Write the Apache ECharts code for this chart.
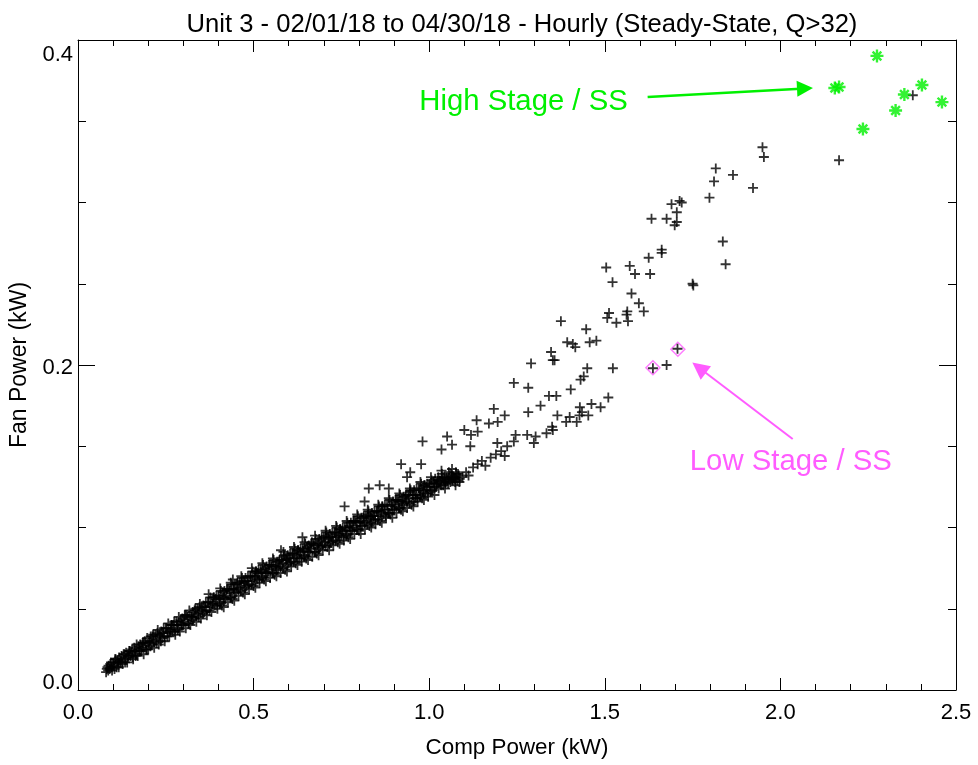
<!DOCTYPE html>
<html><head><meta charset="utf-8">
<script src="https://cdn.jsdelivr.net/npm/echarts@6/dist/echarts.min.js"></script>
<style>html,body{margin:0;padding:0;background:#fff}#c{width:978px;height:765px}</style>
</head><body><div id="c"></div>
<script>
const titleText = 'Unit 3 - 02/01/18 to 04/30/18 - Hourly (Steady-State, Q>32)';
const xName = 'Comp Power (kW)';
const yName = 'Fan Power (kW)';
const xMin = 0, xMax = 2.5, xStep = 0.5;
const yMin = 0, yMax = 0.4, yStep = 0.2;

// dense steady-state band (Comp Power kW, Fan Power kW)
const bandPoints = [
[0.080,0.011],[0.084,0.014],[0.087,0.015],[0.090,0.013],[0.094,0.017],[0.097,0.012],
[0.100,0.017],[0.104,0.013],[0.107,0.019],[0.110,0.014],[0.114,0.017],[0.117,0.020],
[0.120,0.017],[0.124,0.021],[0.127,0.016],[0.130,0.022],[0.134,0.017],[0.137,0.023],
[0.140,0.017],[0.144,0.021],[0.147,0.024],[0.150,0.021],[0.154,0.025],[0.157,0.019],
[0.160,0.026],[0.164,0.021],[0.167,0.028],[0.170,0.021],[0.174,0.025],[0.177,0.028],
[0.180,0.024],[0.184,0.029],[0.187,0.022],[0.190,0.030],[0.194,0.025],[0.197,0.032],
[0.200,0.025],[0.204,0.030],[0.207,0.033],[0.210,0.028],[0.214,0.034],[0.217,0.026],
[0.220,0.034],[0.224,0.029],[0.227,0.037],[0.230,0.028],[0.234,0.033],[0.237,0.036],
[0.240,0.032],[0.244,0.038],[0.247,0.030],[0.250,0.038],[0.254,0.033],[0.257,0.041],
[0.260,0.033],[0.264,0.037],[0.267,0.040],[0.270,0.036],[0.274,0.042],[0.277,0.034],
[0.280,0.042],[0.284,0.037],[0.287,0.045],[0.290,0.036],[0.294,0.041],[0.297,0.044],
[0.300,0.040],[0.304,0.046],[0.307,0.038],[0.310,0.046],[0.314,0.041],[0.317,0.049],
[0.320,0.040],[0.324,0.045],[0.327,0.048],[0.330,0.044],[0.334,0.050],[0.337,0.042],
[0.340,0.050],[0.344,0.045],[0.347,0.053],[0.350,0.044],[0.354,0.049],[0.357,0.052],
[0.360,0.048],[0.364,0.054],[0.367,0.046],[0.370,0.054],[0.374,0.049],[0.377,0.057],
[0.380,0.048],[0.384,0.053],[0.387,0.057],[0.390,0.052],[0.394,0.058],[0.397,0.050],
[0.400,0.058],[0.404,0.053],[0.407,0.061],[0.410,0.052],[0.414,0.057],[0.417,0.061],
[0.420,0.056],[0.424,0.062],[0.427,0.054],[0.430,0.062],[0.434,0.057],[0.437,0.065],
[0.440,0.056],[0.444,0.062],[0.447,0.065],[0.450,0.060],[0.454,0.066],[0.457,0.058],
[0.460,0.066],[0.464,0.061],[0.467,0.069],[0.470,0.060],[0.474,0.066],[0.477,0.069],
[0.480,0.064],[0.484,0.070],[0.487,0.062],[0.490,0.070],[0.494,0.065],[0.497,0.073],
[0.500,0.064],[0.504,0.070],[0.507,0.073],[0.510,0.068],[0.514,0.074],[0.517,0.066],
[0.520,0.074],[0.524,0.069],[0.527,0.077],[0.530,0.068],[0.534,0.073],[0.537,0.076],
[0.540,0.072],[0.544,0.077],[0.547,0.069],[0.550,0.077],[0.554,0.072],[0.557,0.080],
[0.560,0.071],[0.564,0.076],[0.567,0.079],[0.570,0.075],[0.574,0.080],[0.577,0.072],
[0.580,0.080],[0.584,0.075],[0.587,0.083],[0.590,0.074],[0.594,0.080],[0.597,0.083],
[0.600,0.078],[0.604,0.084],[0.607,0.076],[0.610,0.084],[0.614,0.079],[0.617,0.087],
[0.620,0.078],[0.624,0.083],[0.627,0.086],[0.630,0.081],[0.634,0.087],[0.637,0.079],
[0.640,0.087],[0.644,0.082],[0.647,0.090],[0.650,0.081],[0.654,0.086],[0.657,0.089],
[0.660,0.085],[0.664,0.090],[0.667,0.082],[0.670,0.090],[0.674,0.085],[0.677,0.093],
[0.680,0.084],[0.684,0.090],[0.687,0.093],[0.690,0.088],[0.694,0.094],[0.697,0.086],
[0.700,0.094],[0.704,0.089],[0.707,0.097],[0.710,0.088],[0.714,0.093],[0.717,0.096],
[0.720,0.091],[0.724,0.097],[0.727,0.089],[0.730,0.097],[0.734,0.092],[0.737,0.100],
[0.740,0.091],[0.744,0.096],[0.747,0.099],[0.750,0.095],[0.754,0.100],[0.757,0.092],
[0.760,0.100],[0.764,0.095],[0.767,0.103],[0.770,0.094],[0.774,0.100],[0.777,0.103],
[0.780,0.098],[0.784,0.104],[0.787,0.096],[0.790,0.104],[0.794,0.099],[0.797,0.107],
[0.800,0.098],[0.804,0.103],[0.807,0.106],[0.810,0.101],[0.814,0.107],[0.817,0.099],
[0.820,0.107],[0.824,0.102],[0.827,0.110],[0.830,0.101],[0.834,0.106],[0.837,0.109],
[0.840,0.105],[0.844,0.110],[0.847,0.102],[0.850,0.110],[0.854,0.105],[0.857,0.113],
[0.860,0.104],[0.864,0.110],[0.867,0.113],[0.870,0.108],[0.874,0.114],[0.877,0.106],
[0.880,0.114],[0.884,0.109],[0.887,0.117],[0.890,0.108],[0.894,0.113],[0.897,0.116],
[0.900,0.111],[0.904,0.117],[0.907,0.109],[0.910,0.117],[0.914,0.112],[0.917,0.120],
[0.920,0.111],[0.924,0.116],[0.927,0.119],[0.930,0.115],[0.934,0.120],[0.937,0.112],
[0.940,0.120],[0.944,0.115],[0.947,0.123],[0.950,0.114],[0.954,0.120],[0.957,0.123],
[0.960,0.118],[0.964,0.124],[0.967,0.116],[0.970,0.124],[0.974,0.119],[0.977,0.127],
[0.980,0.118],[0.984,0.123],[0.987,0.126],[0.990,0.121],[0.994,0.127],[0.997,0.119],
[1.000,0.127],[1.004,0.122],[1.007,0.129],[1.010,0.123],[1.014,0.127],[1.017,0.130],
[1.020,0.125],[1.024,0.129],[1.027,0.124],[1.030,0.129],[1.034,0.126],[1.037,0.131],
[1.040,0.126],[1.044,0.130],[1.047,0.128],[1.050,0.130],[1.054,0.127],[1.057,0.132],
[1.060,0.128],[1.064,0.131],[1.067,0.129],[1.070,0.131],[1.074,0.128],[1.077,0.133],
[1.080,0.129],[1.084,0.132],[1.087,0.130]
];

const bandPoints2 = [
[0.082,0.013],[0.086,0.012],[0.092,0.016],[0.096,0.014],[0.102,0.015],[0.106,0.019],
[0.112,0.018],[0.116,0.014],[0.122,0.018],[0.126,0.017],[0.132,0.022],[0.136,0.019],
[0.142,0.020],[0.146,0.024],[0.152,0.023],[0.156,0.020],[0.162,0.024],[0.166,0.022],
[0.172,0.027],[0.176,0.024],[0.182,0.026],[0.186,0.029],[0.192,0.029],[0.196,0.025],
[0.202,0.029],[0.206,0.027],[0.212,0.033],[0.216,0.030],[0.222,0.031],[0.226,0.035],
[0.232,0.034],[0.236,0.030],[0.242,0.035],[0.246,0.033],[0.252,0.038],[0.256,0.035],
[0.262,0.036],[0.266,0.040],[0.272,0.040],[0.276,0.036],[0.282,0.040],[0.286,0.038],
[0.292,0.043],[0.296,0.040],[0.302,0.042],[0.306,0.046],[0.312,0.045],[0.316,0.041],
[0.322,0.045],[0.326,0.043],[0.332,0.049],[0.336,0.046],[0.342,0.047],[0.346,0.051],
[0.352,0.051],[0.356,0.047],[0.362,0.051],[0.366,0.049],[0.372,0.054],[0.376,0.051],
[0.382,0.053],[0.386,0.057],[0.392,0.056],[0.396,0.052],[0.402,0.056],[0.406,0.054],
[0.412,0.060],[0.416,0.057],[0.422,0.058],[0.426,0.062],[0.432,0.061],[0.436,0.057],
[0.442,0.062],[0.446,0.060],[0.452,0.065],[0.456,0.062],[0.462,0.063],[0.466,0.067],
[0.472,0.067],[0.476,0.063],[0.482,0.067],[0.486,0.065],[0.492,0.070],[0.496,0.067],
[0.502,0.069],[0.506,0.073],[0.512,0.072],[0.516,0.068],[0.522,0.072],[0.526,0.070],
[0.532,0.075],[0.536,0.072],[0.542,0.073],[0.546,0.077],[0.552,0.076],[0.556,0.072],
[0.562,0.076],[0.566,0.074],[0.572,0.079],[0.576,0.076],[0.582,0.078],[0.586,0.082],
[0.592,0.081],[0.596,0.077],[0.602,0.081],[0.606,0.079],[0.612,0.084],[0.616,0.081],
[0.622,0.082],[0.626,0.086],[0.632,0.085],[0.636,0.081],[0.642,0.085],[0.646,0.083],
[0.652,0.088],[0.656,0.085],[0.662,0.087],[0.666,0.091],[0.672,0.089],[0.676,0.085],
[0.682,0.089],[0.686,0.087],[0.692,0.092],[0.696,0.089],[0.702,0.091],[0.706,0.095],
[0.712,0.094],[0.716,0.090],[0.722,0.094],[0.726,0.092],[0.732,0.097],[0.736,0.094],
[0.742,0.095],[0.746,0.099],[0.752,0.098],[0.756,0.094],[0.762,0.098],[0.766,0.096],
[0.772,0.101],[0.776,0.098],[0.782,0.100],[0.786,0.104],[0.792,0.103],[0.796,0.099],
[0.802,0.103],[0.806,0.101],[0.812,0.106],[0.816,0.103],[0.822,0.104],[0.826,0.108],
[0.832,0.107],[0.836,0.103],[0.842,0.107],[0.846,0.105],[0.852,0.110],[0.856,0.107],
[0.862,0.109],[0.866,0.113],[0.872,0.111],[0.876,0.107],[0.882,0.111],[0.886,0.109],
[0.892,0.114],[0.896,0.111],[0.902,0.113],[0.906,0.117],[0.912,0.116],[0.916,0.112],
[0.922,0.116],[0.926,0.114],[0.932,0.119],[0.936,0.116],[0.942,0.118],[0.946,0.122],
[0.952,0.120],[0.956,0.116],[0.962,0.120],[0.966,0.118],[0.972,0.123],[0.976,0.120],
[0.982,0.122],[0.986,0.126],[0.992,0.125],[0.996,0.121],[1.002,0.125],[1.006,0.123],
[1.012,0.128],[1.016,0.125],[1.022,0.127],[1.026,0.131],[1.032,0.128],[1.036,0.133],
[1.042,0.131],[1.046,0.127],[1.052,0.129],[1.056,0.134],[1.062,0.133],[1.066,0.130],
[1.072,0.130],[1.076,0.134],[1.082,0.133],[1.086,0.128],
[1.095,0.131],[1.105,0.134],[1.112,0.132],[1.125,0.137],[1.138,0.139],[1.150,0.141],
[1.160,0.138],[1.175,0.143],[1.190,0.145],[1.205,0.147],[1.215,0.144]
];

// band edge points (upper and lower fringe)
const bandEdgePoints = [
[0.405,0.0625],[0.415,0.051],[0.435,0.066],[0.445,0.055],[0.465,0.070],[0.475,0.059],
[0.495,0.075],[0.505,0.063],[0.525,0.078],[0.535,0.067],[0.555,0.081],[0.565,0.070],
[0.585,0.085],[0.595,0.073],[0.615,0.088],[0.625,0.077],[0.645,0.091],[0.655,0.080],
[0.675,0.095],[0.685,0.083],[0.705,0.098],[0.715,0.086],[0.735,0.101],[0.745,0.090],
[0.765,0.104],[0.775,0.093],[0.795,0.108],[0.805,0.096],[0.825,0.111],[0.835,0.100],
[0.855,0.114],[0.865,0.103],[0.885,0.118],[0.895,0.106],[0.915,0.121],[0.925,0.110],
[0.945,0.124],[0.955,0.113],[0.975,0.128],[0.985,0.117],[1.005,0.131],[1.015,0.120],
[1.035,0.135],[1.045,0.124],[1.065,0.136],[1.075,0.126]
];

// scattered hourly points away from the band
const scatterPoints = [
[0.372,0.059],[0.441,0.068],[0.578,0.086],[0.639,0.094],[0.759,0.113],[0.816,0.116],
[0.828,0.124],[0.859,0.126],[0.885,0.124],[0.920,0.139],[0.977,0.139],[0.946,0.134],
[0.937,0.131],[0.981,0.153],[1.035,0.148],[1.051,0.156],[1.065,0.151],[1.117,0.150],
[1.100,0.160],[1.119,0.157],[1.138,0.159],[1.135,0.166],[1.170,0.164],[1.195,0.165],
[1.184,0.173],[1.215,0.169],[1.282,0.171],[1.194,0.152],[1.222,0.150],[1.246,0.157],
[1.279,0.157],[1.303,0.156],[1.334,0.158],[1.350,0.162],[1.352,0.160],[1.241,0.153],
[1.298,0.152],[1.241,0.189],[1.282,0.186],[1.341,0.181],[1.362,0.181],[1.317,0.175],
[1.510,0.180],[1.462,0.176],[1.488,0.174],[1.429,0.174],[1.435,0.171],[1.428,0.169],
[1.453,0.169],[1.365,0.169],[1.400,0.168],[1.390,0.165],[1.420,0.165],
[1.440,0.193],[1.431,0.191],[1.403,0.185],[1.450,0.198],[1.523,0.198],[1.676,0.200],
[1.637,0.198],[1.707,0.210],
[1.347,0.208],[1.352,0.203],[1.357,0.203],[1.290,0.201],
[1.375,0.227],[1.447,0.222],[1.393,0.214],[1.409,0.213],[1.416,0.211],[1.457,0.214],[1.476,0.215],
[1.564,0.233],[1.512,0.232],[1.507,0.229],[1.566,0.227],[1.533,0.226],[1.562,0.231],
[1.576,0.244],[1.597,0.238],[1.611,0.233],
[1.504,0.260],[1.571,0.261],[1.586,0.256],[1.629,0.256],[1.522,0.251],[1.750,0.250],[1.752,0.249],
[1.662,0.271],[1.662,0.269],[1.625,0.266],
[1.713,0.301],[1.719,0.300],[1.690,0.299],[1.705,0.294],[1.633,0.290],[1.676,0.290],
[1.705,0.288],[1.699,0.286],
[1.836,0.276],[1.844,0.262],
[1.949,0.334],[1.953,0.328],[1.816,0.321],[1.811,0.313],[1.865,0.317],[1.922,0.309],
[1.798,0.303],[2.167,0.326],[2.377,0.366]
];

const highStagePoints = [
[2.155,0.3705],[2.167,0.3711],[2.275,0.3902],[2.403,0.3723],[2.353,0.3665],
[2.460,0.3618],[2.328,0.3566],[2.235,0.3452]
];

const lowStagePoints = [[1.637,0.1983],[1.708,0.2097]];

const highArrow = [[1.622,0.3649],[2.070,0.3702]];
const lowArrow = [[2.035,0.1545],[1.7685,0.1983]];
const highLabel = {text:'High Stage / SS', at:[1.2685,0.3619]};
const lowLabel = {text:'Low Stage / SS', at:[2.0296,0.1404]};

const GREEN = '#00f000';
const PINK = '#ff5cff';
const FONT = 'Liberation Sans, Arial, sans-serif';

const plusPath = 'path://M0,4.1H10V5.9H0Z M4.1,0H5.9V10H4.1Z';
const starPath = 'path://M0,4.9H12V7.1H0Z M4.9,0H7.1V12H4.9Z M1.2,2.8L2.8,1.2L10.8,9.2L9.2,10.8Z M9.2,1.2L10.8,2.8L2.8,10.8L1.2,9.2Z';

const chart = echarts.init(document.getElementById('c'), null, {renderer:'canvas'});

const axisLineStyle = {show:true, onZero:false, lineStyle:{color:'#000', width:1}};

function yLabelFmt(v){
  const s = v.toFixed(1);
  if (Math.abs(v - yMax) < 1e-9) return '{t|' + s + '}';
  if (Math.abs(v - yMin) < 1e-9) return '{b|' + s + '}';
  return '{m|' + s + '}';
}

const plusSeries = (name, data) => ({
  type:'scatter', name, xAxisIndex:0, yAxisIndex:0,
  data, symbol:plusPath, symbolSize:10,
  itemStyle:{color:'#000'}, z:3
});

const option = {
  backgroundColor:'#fff',
  animation:false,
  textStyle:{fontFamily:FONT},
  title:{
    text:titleText, left:517, textAlign:'center', top:7,
    textStyle:{fontSize:25.6, fontWeight:'normal', color:'#000', fontFamily:FONT}
  },
  grid:{left:78, right:22, top:40, bottom:75, containLabel:false},
  xAxis:[{
    type:'value', min:xMin, max:xMax, interval:xStep, position:'bottom',
    name:xName, nameLocation:'middle', nameGap:47,
    nameTextStyle:{fontSize:22.4, color:'#000', fontFamily:FONT},
    axisLine:axisLineStyle,
    axisTick:{show:true, inside:true, length:12, lineStyle:{color:'#000'}},
    minorTick:{show:true, splitNumber:5, length:6, lineStyle:{color:'#000'}},
    splitLine:{show:false}, minorSplitLine:{show:false},
    axisLabel:{show:true, margin:12, fontSize:22, color:'#000', fontFamily:FONT,
      formatter:v=>v.toFixed(1)}
  },{
    type:'value', min:xMin, max:xMax, interval:xStep, position:'top',
    axisLine:axisLineStyle,
    axisTick:{show:true, inside:true, length:12, lineStyle:{color:'#000'}},
    minorTick:{show:true, splitNumber:5, length:6, lineStyle:{color:'#000'}},
    splitLine:{show:false}, axisLabel:{show:false}
  }],
  yAxis:[{
    type:'value', min:yMin, max:yMax, interval:yStep, position:'left',
    name:yName, nameLocation:'middle', nameGap:44, nameRotate:90,
    nameTextStyle:{fontSize:23, color:'#000', fontFamily:FONT},
    axisLine:axisLineStyle,
    axisTick:{show:true, inside:true, length:17, lineStyle:{color:'#000'}},
    minorTick:{show:true, splitNumber:4, length:8, lineStyle:{color:'#000'}},
    splitLine:{show:false}, minorSplitLine:{show:false},
    axisLabel:{show:true, margin:5, color:'#000', fontFamily:FONT, fontSize:22,
      formatter:yLabelFmt,
      rich:{
        t:{fontSize:22, color:'#000', fontFamily:FONT, padding:[30,0,0,0]},
        b:{fontSize:22, color:'#000', fontFamily:FONT, padding:[0,0,15,0]},
        m:{fontSize:22, color:'#000', fontFamily:FONT, padding:[6,0,0,0]}
      }}
  },{
    type:'value', min:yMin, max:yMax, interval:yStep, position:'right',
    axisLine:axisLineStyle,
    axisTick:{show:true, inside:true, length:17, lineStyle:{color:'#000'}},
    minorTick:{show:true, splitNumber:4, length:8, lineStyle:{color:'#000'}},
    splitLine:{show:false}, axisLabel:{show:false}
  }],
  series:[
    {
      type:'scatter', name:'lowStage', xAxisIndex:0, yAxisIndex:0,
      data:lowStagePoints, symbol:'diamond', symbolSize:14,
      itemStyle:{color:'rgba(255,255,255,0)', borderColor:PINK, borderWidth:1.5},
      z:2,
      markLine:{
        silent:true, symbol:['none','triangle'], symbolSize:17,
        itemStyle:{color:PINK},
        lineStyle:{color:PINK, width:2, type:'solid'},
        label:{show:false},
        data:[[{coord:lowArrow[0]},{coord:lowArrow[1]}]]
      },
      markPoint:{
        silent:true, symbol:'circle', symbolSize:0,
        data:[{coord:lowLabel.at, value:0}],
        label:{show:true, position:'inside', formatter:lowLabel.text,
          fontSize:29.3, color:PINK, fontFamily:FONT}
      }
    },
    plusSeries('band', bandPoints),
    plusSeries('band2', bandPoints2),
    plusSeries('bandEdge', bandEdgePoints),
    plusSeries('scatter', scatterPoints),
    {
      type:'scatter', name:'highStage', xAxisIndex:0, yAxisIndex:0,
      data:highStagePoints, symbol:starPath, symbolSize:13,
      itemStyle:{color:GREEN}, z:4,
      markLine:{
        silent:true, symbol:['none','triangle'], symbolSize:16,
        itemStyle:{color:GREEN},
        lineStyle:{color:GREEN, width:2.5, type:'solid'},
        label:{show:false},
        data:[[{coord:highArrow[0]},{coord:highArrow[1]}]]
      },
      markPoint:{
        silent:true, symbol:'circle', symbolSize:0,
        data:[{coord:highLabel.at, value:0}],
        label:{show:true, position:'inside', formatter:highLabel.text,
          fontSize:29.3, color:GREEN, fontFamily:FONT}
      }
    }
  ]
};
chart.setOption(option);
</script>
</body></html>
